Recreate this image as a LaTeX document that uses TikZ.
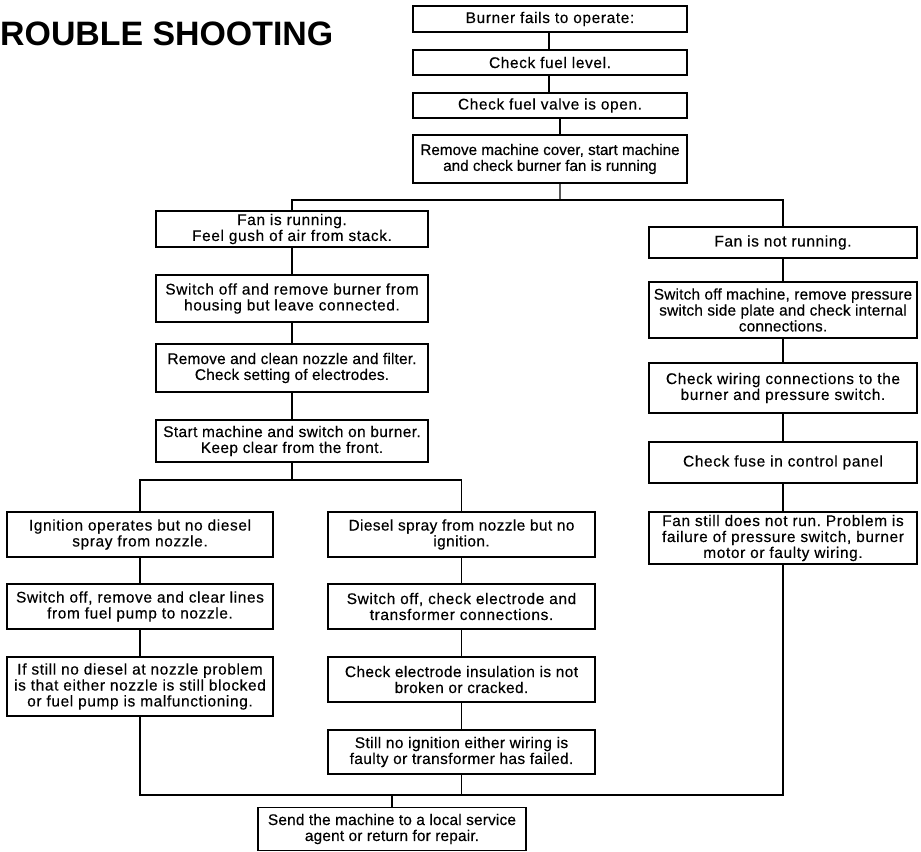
\documentclass[tikz,border=0pt]{standalone}
\usepackage{fontspec}
\setmainfont{Liberation Sans}[LetterSpace=4,FakeBold=0.4]
\newfontfamily\midfont{Liberation Sans}[LetterSpace=2.5,FakeBold=0.4]
\newfontfamily\tightfont{Liberation Sans}[LetterSpace=1,FakeBold=0.4]
\newfontfamily\plainfont{Liberation Sans}[FakeBold=0.4]
\newfontfamily\titlefont{Liberation Sans}
\frenchspacing
\begin{document}
\begin{tikzpicture}[x=1bp,y=-1bp,
  bx/.style={draw, line width=1.4bp, inner sep=0pt, align=center,
    font=\fontsize{15.5}{16}\selectfont},
  mid/.style={font=\midfont\fontsize{15.5}{16}\selectfont},
  tight/.style={font=\tightfont\fontsize{15.5}{16}\selectfont},
  plain/.style={font=\plainfont\fontsize{15.3}{16}\selectfont},
  ln/.style={line width=1.4bp}]
\useasboundingbox (0,0) rectangle (921,852);
% title
\node[anchor=base west, inner sep=0pt, font=\titlefont\bfseries\fontsize{34}{40}\selectfont] (title) at (0,45) {ROUBLE SHOOTING};
% top column
\node[bx, minimum width=274bp, minimum height=26bp] (b1) at (550,19) {Burner fails to operate:};
\node[bx, minimum width=274bp, minimum height=25bp] (b2) at (550,62.5) {Check fuel level.};
\node[bx, minimum width=274bp, minimum height=25bp] (b3) at (550,105.5) {Check fuel valve is open.};
\node[bx, plain, minimum width=274bp, minimum height=48bp] (b4) at (550,159) {Remove machine cover, start machine\\and check burner fan is running};
% left column
\node[bx, minimum width=272bp, minimum height=36bp] (l1) at (292,229) {Fan is running.\\Feel gush of air from stack.};
\node[bx, minimum width=272bp, minimum height=47bp] (l2) at (292,298.5) {Switch off and remove burner from\\housing but leave connected.};
\node[bx, tight, minimum width=272bp, minimum height=48bp] (l3) at (292,368) {Remove and clean nozzle and filter.\\Check setting of electrodes.};
\node[bx, mid, minimum width=272bp, minimum height=42bp] (l4) at (292,441) {Start machine and switch on burner.\\Keep clear from the front.};
% right column
\node[bx, minimum width=268bp, minimum height=31bp] (r1) at (783,242.5) {Fan is not running.};
\node[bx, tight, minimum width=268bp, minimum height=56bp] (r2) at (783,310) {Switch off machine, remove pressure\\switch side plate and check internal\\connections.};
\node[bx, minimum width=268bp, minimum height=50bp] (r3) at (783,388) {Check wiring connections to the\\burner and pressure switch.};
\node[bx, minimum width=268bp, minimum height=41bp] (r4) at (783,462.5) {Check fuse in control panel};
\node[bx, minimum width=268bp, minimum height=52bp] (r5) at (783,538) {Fan still does not run. Problem is\\failure of pressure switch, burner\\motor or faulty wiring.};
% lower left
\node[bx, minimum width=266bp, minimum height=45bp] (a1) at (140,534.5) {Ignition operates but no diesel\\spray from nozzle.};
\node[bx, minimum width=266bp, minimum height=45bp] (a2) at (140,606.5) {Switch off, remove and clear lines\\from fuel pump to nozzle.};
\node[bx, minimum width=266bp, minimum height=59bp] (a3) at (140,686.5) {If still no diesel at nozzle problem\\is that either nozzle is still blocked\\or fuel pump is malfunctioning.};
% lower middle
\node[bx, mid, minimum width=267bp, minimum height=45bp] (c1) at (461.5,534.5) {Diesel spray from nozzle but no\\ignition.};
\node[bx, minimum width=267bp, minimum height=45bp] (c2) at (461.5,606.5) {Switch off, check electrode and\\transformer connections.};
\node[bx, mid, minimum width=267bp, minimum height=45bp] (c3) at (461.5,679.5) {Check electrode insulation is not\\broken or cracked.};
\node[bx, mid, minimum width=267bp, minimum height=44bp] (c4) at (461.5,752) {Still no ignition either wiring is\\faulty or transformer has failed.};
% final
\node[bx, tight, minimum width=268bp, minimum height=43bp] (send) at (392,829) {Send the machine to a local service\\agent or return for repair.};
% junction points
\coordinate (j1) at (560,200);
\coordinate (t1) at (292,200);
\coordinate (t2) at (783,200);
\coordinate (sm) at (292,480);
\coordinate (s1) at (140,480);
\coordinate (s2) at (461.5,480);
\coordinate (e1) at (140,795);
\coordinate (e2) at (783,795);
\coordinate (ec) at (461.5,795);
\coordinate (em) at (392,795);
% connectors
\draw[ln] ([xshift=-1bp]b1.south) -- ([xshift=-1bp]b2.north);
\draw[ln] ([xshift=-1bp]b2.south) -- ([xshift=-1bp]b3.north);
\draw[ln] ([xshift=10bp]b3.south) -- ([xshift=10bp]b4.north);
\draw[ln] ([xshift=10bp]b4.south) -- (j1);
\draw[ln] (l1.north) -- (t1) -- (t2) -- (r1.north);
\draw[ln] (l1.south) -- (l2.north);
\draw[ln] (l2.south) -- (l3.north);
\draw[ln] (l3.south) -- (l4.north);
\draw[ln] (l4.south) -- (sm);
\draw[ln] (a1.north) -- (s1) -- (s2) -- (c1.north);
\draw[ln] (a1.south) -- (a2.north);
\draw[ln] (a2.south) -- (a3.north);
\draw[ln] (c1.south) -- (c2.north);
\draw[ln] (c2.south) -- (c3.north);
\draw[ln] (c3.south) -- (c4.north);
\draw[ln] (r1.south) -- (r2.north);
\draw[ln] (r2.south) -- (r3.north);
\draw[ln] (r3.south) -- (r4.north);
\draw[ln] (r4.south) -- (r5.north);
\draw[ln] (a3.south) -- (e1) -- (e2) -- (r5.south);
\draw[ln] (c4.south) -- (ec);
\draw[ln] (em) -- (send.north);
\end{tikzpicture}
\end{document}
